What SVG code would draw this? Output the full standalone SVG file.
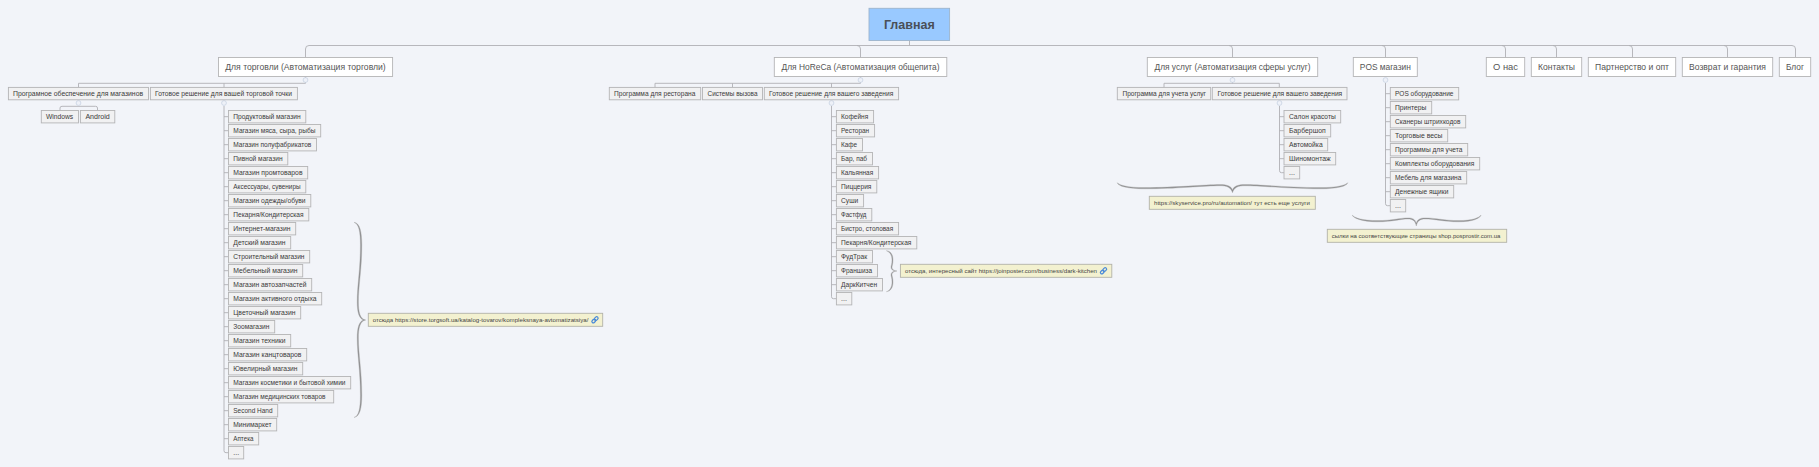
<svg xmlns="http://www.w3.org/2000/svg" width="1819" height="467" viewBox="0 0 1819 467">
<style>
text{font-family:"Liberation Sans","DejaVu Sans",sans-serif;fill:#3c3c3c;dominant-baseline:central}
.r{fill:#99c9ff;stroke:#9db4cc;stroke-width:.9}
.rt{font-size:12.5px;font-weight:bold;fill:#4a4f58;text-anchor:middle}
.a{fill:#fff;stroke:#b4b4b6;stroke-width:.9}
.at{font-size:9px;fill:#555;text-anchor:middle}
.b{fill:#f1f1f2;stroke:#b4b4b6;stroke-width:.9}
.bt{font-size:7.1px;fill:#3a3a3a}
.n{fill:#f3f1d0;stroke:#b2b2a8;stroke-width:.9}
.nt{font-size:6.2px;fill:#444}
.c{fill:none;stroke:#b0b0b4;stroke-width:.9}
.br{fill:#8b8b8d;stroke:#a8a8aa;stroke-width:.4}
.o{fill:#eef1f8;stroke:#c3cfe0;stroke-width:.7}
.ic{fill:none;stroke:#4a8ad8;stroke-width:1.2}
</style>
<rect width="1819" height="467" fill="#f2f4f9"/>
<g id="connectors" class="c">
<path class="c" d="M909.5 40.5V45.5"/>
<path class="c" d="M305.5 57V49Q305.5 45.5 309 45.5H1792Q1795.5 45.5 1795.5 49V57"/>
<path class="c" d="M857 45.5Q860.5 45.5 860.5 49V57.5M1229 45.5Q1232.5 45.5 1232.5 49V57.5M1382 45.5Q1385.5 45.5 1385.5 49V57.5M1502 45.5Q1505.5 45.5 1505.5 49V57.5M1553 45.5Q1556.5 45.5 1556.5 49V57.5M1629 45.5Q1632.5 45.5 1632.5 49V57.5M1724 45.5Q1727.5 45.5 1727.5 49V57.5"/>
<path class="c" d="M78.5 87.5V83.3H224V87.5M224 83.3H305.5V77"/>
<path class="c" d="M60 110.5V108Q60 106.3 62 106.3H95.5Q97.5 106.3 97.5 108V110.5"/>
<path class="c" d="M224 106V450.7Q224 452.7 226 452.7H228.5"/>
<path class="c" d="M224 116.7h4.5M224 130.7h4.5M224 144.7h4.5M224 158.7h4.5M224 172.7h4.5M224 186.7h4.5M224 200.7h4.5M224 214.7h4.5M224 228.7h4.5M224 242.7h4.5M224 256.7h4.5M224 270.7h4.5M224 284.7h4.5M224 298.7h4.5M224 312.7h4.5M224 326.7h4.5M224 340.7h4.5M224 354.7h4.5M224 368.7h4.5M224 382.7h4.5M224 396.7h4.5M224 410.7h4.5M224 424.7h4.5M224 438.7h4.5"/>
<path class="c" d="M655 87.5V83.3H860.5V77M732.5 83.3V87.5M831.5 83.3V87.5"/>
<path class="c" d="M831.5 106V296.7Q831.5 298.7 833.5 298.7H836.4"/>
<path class="c" d="M831.5 116.7h4.9M831.5 130.7h4.9M831.5 144.7h4.9M831.5 158.7h4.9M831.5 172.7h4.9M831.5 186.7h4.9M831.5 200.7h4.9M831.5 214.7h4.9M831.5 228.7h4.9M831.5 242.7h4.9M831.5 256.7h4.9M831.5 270.7h4.9M831.5 284.7h4.9"/>
<path class="c" d="M1164 87.5V83.3H1279.3V87.5M1232.5 83.3V77"/>
<path class="c" d="M1279.5 106V170.7Q1279.5 172.7 1281.5 172.7H1284"/>
<path class="c" d="M1279.5 116.7h4.5M1279.5 130.7h4.5M1279.5 144.7h4.5M1279.5 158.7h4.5"/>
<path class="c" d="M1385.5 83V203.7Q1385.5 205.7 1387.5 205.7H1390.3"/>
<path class="c" d="M1385.5 93.7h4.8M1385.5 107.7h4.8M1385.5 121.7h4.8M1385.5 135.7h4.8M1385.5 149.7h4.8M1385.5 163.7h4.8M1385.5 177.7h4.8M1385.5 191.7h4.8"/>
</g>
<g id="toggles">
<circle class="o" cx="305.5" cy="80" r="2.4"/><circle class="o" cx="78.5" cy="103" r="2.4"/><circle class="o" cx="224" cy="103" r="2.4"/><circle class="o" cx="860.5" cy="80" r="2.4"/><circle class="o" cx="831.5" cy="103" r="2.4"/><circle class="o" cx="1232.5" cy="80" r="2.4"/><circle class="o" cx="1279.5" cy="103" r="2.4"/><circle class="o" cx="1385.5" cy="80" r="2.4"/>
</g>
<g id="root"><rect class="r" x="869" y="8.3" width="80.6" height="32.2"/><text class="rt" x="909.3" y="25">Главная</text></g>
<g id="l1-trade"><rect class="a" x="218.5" y="57.5" width="174.1" height="19"/><text class="at" x="305.5" y="67" textLength="160.5" lengthAdjust="spacingAndGlyphs">Для торговли (Автоматизация торговли)</text></g>
<g id="l1-horeca"><rect class="a" x="774.3" y="57.5" width="172.5" height="19"/><text class="at" x="860.5" y="67" textLength="158" lengthAdjust="spacingAndGlyphs">Для HoReCa (Автоматизация общепита)</text></g>
<g id="l1-services"><rect class="a" x="1147.3" y="57.5" width="170.4" height="19"/><text class="at" x="1232.5" y="67" textLength="156" lengthAdjust="spacingAndGlyphs">Для услуг (Автоматизация сферы услуг)</text></g>
<g id="l1-pos"><rect class="a" x="1353.3" y="57.5" width="64" height="19"/><text class="at" x="1385.3" y="67" textLength="51" lengthAdjust="spacingAndGlyphs">POS магазин</text></g>
<g id="l1-about"><rect class="a" x="1486.3" y="57.5" width="38.4" height="19"/><text class="at" x="1505.5" y="67" textLength="25" lengthAdjust="spacingAndGlyphs">О нас</text></g>
<g id="l1-contacts"><rect class="a" x="1531.3" y="57.5" width="50.4" height="19"/><text class="at" x="1556.5" y="67" textLength="37" lengthAdjust="spacingAndGlyphs">Контакты</text></g>
<g id="l1-partner"><rect class="a" x="1588.3" y="57.5" width="87.4" height="19"/><text class="at" x="1632" y="67" textLength="74" lengthAdjust="spacingAndGlyphs">Партнерство и опт</text></g>
<g id="l1-return"><rect class="a" x="1682.3" y="57.5" width="90.4" height="19"/><text class="at" x="1727.5" y="67" textLength="77" lengthAdjust="spacingAndGlyphs">Возврат и гарантия</text></g>
<g id="l1-blog"><rect class="a" x="1779.3" y="57.5" width="31.4" height="19"/><text class="at" x="1795" y="67" textLength="18" lengthAdjust="spacingAndGlyphs">Блог</text></g>
<g id="t1"><rect class="b" x="8.4" y="87.4" width="140.1" height="12.4"/><text class="bt" x="13" y="93.6" textLength="130.1" lengthAdjust="spacingAndGlyphs">Програмное обеспечение для магазинов</text></g>
<g id="t2"><rect class="b" x="150.4" y="87.4" width="147" height="12.4"/><text class="bt" x="155" y="93.6" textLength="137" lengthAdjust="spacingAndGlyphs">Готовое решение для вашей торговой точки</text></g>
<g id="t1a"><rect class="b" x="41.3" y="110.5" width="37.2" height="12.4"/><text class="bt" x="46" y="116.7" textLength="27.2" lengthAdjust="spacingAndGlyphs">Windows</text></g>
<g id="t1b"><rect class="b" x="80.4" y="110.5" width="34.4" height="12.4"/><text class="bt" x="85.4" y="116.7" textLength="24.4" lengthAdjust="spacingAndGlyphs">Android</text></g>
<g id="s0"><rect class="b" x="228.5" y="110.5" width="77.3" height="12.4"/><text class="bt" x="233.3" y="116.7" textLength="67.3" lengthAdjust="spacingAndGlyphs">Продуктовый магазин</text></g>
<g id="s1"><rect class="b" x="228.5" y="124.5" width="92.2" height="12.4"/><text class="bt" x="233.3" y="130.7" textLength="82.2" lengthAdjust="spacingAndGlyphs">Магазин мяса, сыра, рыбы</text></g>
<g id="s2"><rect class="b" x="228.5" y="138.5" width="88" height="12.4"/><text class="bt" x="233.3" y="144.7" textLength="78" lengthAdjust="spacingAndGlyphs">Магазин полуфабрикатов</text></g>
<g id="s3"><rect class="b" x="228.5" y="152.5" width="59.3" height="12.4"/><text class="bt" x="233.3" y="158.7" textLength="49.3" lengthAdjust="spacingAndGlyphs">Пивной магазин</text></g>
<g id="s4"><rect class="b" x="228.5" y="166.5" width="79.2" height="12.4"/><text class="bt" x="233.3" y="172.7" textLength="69.2" lengthAdjust="spacingAndGlyphs">Магазин промтоваров</text></g>
<g id="s5"><rect class="b" x="228.5" y="180.5" width="77.3" height="12.4"/><text class="bt" x="233.3" y="186.7" textLength="67.3" lengthAdjust="spacingAndGlyphs">Аксессуары, сувениры</text></g>
<g id="s6"><rect class="b" x="228.5" y="194.5" width="82.3" height="12.4"/><text class="bt" x="233.3" y="200.7" textLength="72.3" lengthAdjust="spacingAndGlyphs">Магазин одежды/обуви</text></g>
<g id="s7"><rect class="b" x="228.5" y="208.5" width="80.3" height="12.4"/><text class="bt" x="233.3" y="214.7" textLength="70.3" lengthAdjust="spacingAndGlyphs">Пекарня/Кондитерская</text></g>
<g id="s8"><rect class="b" x="228.5" y="222.5" width="67.2" height="12.4"/><text class="bt" x="233.3" y="228.7" textLength="57.2" lengthAdjust="spacingAndGlyphs">Интернет-магазин</text></g>
<g id="s9"><rect class="b" x="228.5" y="236.5" width="62.2" height="12.4"/><text class="bt" x="233.3" y="242.7" textLength="52.2" lengthAdjust="spacingAndGlyphs">Детский магазин</text></g>
<g id="s10"><rect class="b" x="228.5" y="250.5" width="81.2" height="12.4"/><text class="bt" x="233.3" y="256.7" textLength="71.2" lengthAdjust="spacingAndGlyphs">Строительный магазин</text></g>
<g id="s11"><rect class="b" x="228.5" y="264.5" width="74.2" height="12.4"/><text class="bt" x="233.3" y="270.7" textLength="64.2" lengthAdjust="spacingAndGlyphs">Мебельный магазин</text></g>
<g id="s12"><rect class="b" x="228.5" y="278.5" width="83.2" height="12.4"/><text class="bt" x="233.3" y="284.7" textLength="73.2" lengthAdjust="spacingAndGlyphs">Магазин автозапчастей</text></g>
<g id="s13"><rect class="b" x="228.5" y="292.5" width="93.2" height="12.4"/><text class="bt" x="233.3" y="298.7" textLength="83.2" lengthAdjust="spacingAndGlyphs">Магазин активного отдыха</text></g>
<g id="s14"><rect class="b" x="228.5" y="306.5" width="72.2" height="12.4"/><text class="bt" x="233.3" y="312.7" textLength="62.2" lengthAdjust="spacingAndGlyphs">Цветочный магазин</text></g>
<g id="s15"><rect class="b" x="228.5" y="320.5" width="46.2" height="12.4"/><text class="bt" x="233.3" y="326.7" textLength="36.2" lengthAdjust="spacingAndGlyphs">Зоомагазин</text></g>
<g id="s16"><rect class="b" x="228.5" y="334.5" width="62.2" height="12.4"/><text class="bt" x="233.3" y="340.7" textLength="52.2" lengthAdjust="spacingAndGlyphs">Магазин техники</text></g>
<g id="s17"><rect class="b" x="228.5" y="348.5" width="78.2" height="12.4"/><text class="bt" x="233.3" y="354.7" textLength="68.2" lengthAdjust="spacingAndGlyphs">Магазин канцтоваров</text></g>
<g id="s18"><rect class="b" x="228.5" y="362.5" width="74.2" height="12.4"/><text class="bt" x="233.3" y="368.7" textLength="64.2" lengthAdjust="spacingAndGlyphs">Ювелирный магазин</text></g>
<g id="s19"><rect class="b" x="228.5" y="376.5" width="122.2" height="12.4"/><text class="bt" x="233.3" y="382.7" textLength="112.2" lengthAdjust="spacingAndGlyphs">Магазин косметики и бытовой химии</text></g>
<g id="s20"><rect class="b" x="228.5" y="390.5" width="105.2" height="12.4"/><text class="bt" x="233.3" y="396.7" textLength="92.2" lengthAdjust="spacingAndGlyphs">Магазин медицинских товаров</text></g>
<g id="s21"><rect class="b" x="228.5" y="404.5" width="49.2" height="12.4"/><text class="bt" x="233.3" y="410.7" textLength="39.2" lengthAdjust="spacingAndGlyphs">Second Hand</text></g>
<g id="s22"><rect class="b" x="228.5" y="418.5" width="48.2" height="12.4"/><text class="bt" x="233.3" y="424.7" textLength="38.2" lengthAdjust="spacingAndGlyphs">Минимаркет</text></g>
<g id="s23"><rect class="b" x="228.5" y="432.5" width="30.2" height="12.4"/><text class="bt" x="233.3" y="438.7" textLength="20.2" lengthAdjust="spacingAndGlyphs">Аптека</text></g>
<g id="s24"><rect class="b" x="228.5" y="446.5" width="15.2" height="12.4"/><text class="bt" x="233.3" y="452.7">...</text></g>
<g id="h1"><rect class="b" x="609.3" y="87.4" width="91.4" height="12.4"/><text class="bt" x="614" y="93.6" textLength="81.4" lengthAdjust="spacingAndGlyphs">Программа для ресторана</text></g>
<g id="h2"><rect class="b" x="702.5" y="87.4" width="60" height="12.4"/><text class="bt" x="707.5" y="93.6" textLength="50" lengthAdjust="spacingAndGlyphs">Системы вызова</text></g>
<g id="h3"><rect class="b" x="764.3" y="87.4" width="134.3" height="12.4"/><text class="bt" x="769" y="93.6" textLength="124.3" lengthAdjust="spacingAndGlyphs">Готовое решение для вашего заведения</text></g>
<g id="c0"><rect class="b" x="836.4" y="110.5" width="37.2" height="12.4"/><text class="bt" x="841" y="116.7" textLength="27.2" lengthAdjust="spacingAndGlyphs">Кофейня</text></g>
<g id="c1"><rect class="b" x="836.4" y="124.5" width="38.2" height="12.4"/><text class="bt" x="841" y="130.7" textLength="28.2" lengthAdjust="spacingAndGlyphs">Ресторан</text></g>
<g id="c2"><rect class="b" x="836.4" y="138.5" width="26.1" height="12.4"/><text class="bt" x="841" y="144.7" textLength="16.1" lengthAdjust="spacingAndGlyphs">Кафе</text></g>
<g id="c3"><rect class="b" x="836.4" y="152.5" width="36.1" height="12.4"/><text class="bt" x="841" y="158.7" textLength="26.1" lengthAdjust="spacingAndGlyphs">Бар, паб</text></g>
<g id="c4"><rect class="b" x="836.4" y="166.5" width="42.2" height="12.4"/><text class="bt" x="841" y="172.7" textLength="32.2" lengthAdjust="spacingAndGlyphs">Кальянная</text></g>
<g id="c5"><rect class="b" x="836.4" y="180.5" width="40.4" height="12.4"/><text class="bt" x="841" y="186.7" textLength="30.4" lengthAdjust="spacingAndGlyphs">Пиццерия</text></g>
<g id="c6"><rect class="b" x="836.4" y="194.5" width="27.2" height="12.4"/><text class="bt" x="841" y="200.7" textLength="17.2" lengthAdjust="spacingAndGlyphs">Суши</text></g>
<g id="c7"><rect class="b" x="836.4" y="208.5" width="35.4" height="12.4"/><text class="bt" x="841" y="214.7" textLength="25.4" lengthAdjust="spacingAndGlyphs">Фастфуд</text></g>
<g id="c8"><rect class="b" x="836.4" y="222.5" width="62.2" height="12.4"/><text class="bt" x="841" y="228.7" textLength="52.2" lengthAdjust="spacingAndGlyphs">Бистро, столовая</text></g>
<g id="c9"><rect class="b" x="836.4" y="236.5" width="80.4" height="12.4"/><text class="bt" x="841" y="242.7" textLength="70.4" lengthAdjust="spacingAndGlyphs">Пекарня/Кондитерская</text></g>
<g id="c10"><rect class="b" x="836.4" y="250.5" width="36.1" height="12.4"/><text class="bt" x="841" y="256.7" textLength="26.1" lengthAdjust="spacingAndGlyphs">ФудТрак</text></g>
<g id="c11"><rect class="b" x="836.4" y="264.5" width="41.1" height="12.4"/><text class="bt" x="841" y="270.7" textLength="31.1" lengthAdjust="spacingAndGlyphs">Франшиза</text></g>
<g id="c12"><rect class="b" x="836.4" y="278.5" width="46.1" height="12.4"/><text class="bt" x="841" y="284.7" textLength="36.1" lengthAdjust="spacingAndGlyphs">ДаркКитчен</text></g>
<g id="c13"><rect class="b" x="836.4" y="292.5" width="15.4" height="12.4"/><text class="bt" x="841" y="298.7">...</text></g>
<g id="u1"><rect class="b" x="1117.3" y="87.4" width="93.4" height="12.4"/><text class="bt" x="1122.5" y="93.6" textLength="83.4" lengthAdjust="spacingAndGlyphs">Программа для учета услуг</text></g>
<g id="u2"><rect class="b" x="1212.3" y="87.4" width="134.7" height="12.4"/><text class="bt" x="1217.5" y="93.6" textLength="124.7" lengthAdjust="spacingAndGlyphs">Готовое решение для вашего заведения</text></g>
<g id="v0"><rect class="b" x="1284" y="110.5" width="56.7" height="12.4"/><text class="bt" x="1289" y="116.7" textLength="46.7" lengthAdjust="spacingAndGlyphs">Салон красоты</text></g>
<g id="v1"><rect class="b" x="1284" y="124.5" width="46.7" height="12.4"/><text class="bt" x="1289" y="130.7" textLength="36.7" lengthAdjust="spacingAndGlyphs">Барбершоп</text></g>
<g id="v2"><rect class="b" x="1284" y="138.5" width="43.7" height="12.4"/><text class="bt" x="1289" y="144.7" textLength="33.7" lengthAdjust="spacingAndGlyphs">Автомойка</text></g>
<g id="v3"><rect class="b" x="1284" y="152.5" width="51.7" height="12.4"/><text class="bt" x="1289" y="158.7" textLength="41.7" lengthAdjust="spacingAndGlyphs">Шиномонтаж</text></g>
<g id="v4"><rect class="b" x="1284" y="166.5" width="15.7" height="12.4"/><text class="bt" x="1289" y="172.7">...</text></g>
<g id="p0"><rect class="b" x="1390.3" y="87.5" width="68.4" height="12.4"/><text class="bt" x="1395" y="93.7" textLength="58.4" lengthAdjust="spacingAndGlyphs">POS оборудование</text></g>
<g id="p1"><rect class="b" x="1390.3" y="101.5" width="41.4" height="12.4"/><text class="bt" x="1395" y="107.7" textLength="31.4" lengthAdjust="spacingAndGlyphs">Принтеры</text></g>
<g id="p2"><rect class="b" x="1390.3" y="115.5" width="75.4" height="12.4"/><text class="bt" x="1395" y="121.7" textLength="65.4" lengthAdjust="spacingAndGlyphs">Сканеры штрихкодов</text></g>
<g id="p3"><rect class="b" x="1390.3" y="129.5" width="57.4" height="12.4"/><text class="bt" x="1395" y="135.7" textLength="47.4" lengthAdjust="spacingAndGlyphs">Торговые весы</text></g>
<g id="p4"><rect class="b" x="1390.3" y="143.5" width="77.4" height="12.4"/><text class="bt" x="1395" y="149.7" textLength="67.4" lengthAdjust="spacingAndGlyphs">Программы для учета</text></g>
<g id="p5"><rect class="b" x="1390.3" y="157.5" width="89.4" height="12.4"/><text class="bt" x="1395" y="163.7" textLength="79.4" lengthAdjust="spacingAndGlyphs">Комплекты оборудования</text></g>
<g id="p6"><rect class="b" x="1390.3" y="171.5" width="76.4" height="12.4"/><text class="bt" x="1395" y="177.7" textLength="66.4" lengthAdjust="spacingAndGlyphs">Мебель для магазина</text></g>
<g id="p7"><rect class="b" x="1390.3" y="185.5" width="63.4" height="12.4"/><text class="bt" x="1395" y="191.7" textLength="53.4" lengthAdjust="spacingAndGlyphs">Денежные ящики</text></g>
<g id="p8"><rect class="b" x="1390.3" y="199.5" width="15.4" height="12.4"/><text class="bt" x="1395" y="205.7">...</text></g>
<g id="brace-trade"><path class="br" d="M354 222.3C360 223 361.8 232 361.8 245C361.8 270 358.4 285 358.4 302C358.4 312 360 319 365.7 320C360 321 358.4 328 358.4 338C358.4 355 361.8 370 361.8 395C361.8 408 360 416.5 354 417.5C359 416 360.4 408 360.4 395C360.4 370 357.2 355 357.2 338C357.2 328 359 321.5 363.5 320C359 318.5 357.2 312 357.2 302C357.2 285 360.4 270 360.4 245C360.4 232 359 224 354 222.3Z"/></g>
<g id="note-trade"><rect class="n" x="368.3" y="313.3" width="234.4" height="13"/><text class="nt" x="372.7" y="319.8" textLength="215.7" lengthAdjust="spacingAndGlyphs">отсюда https://store.torgsoft.ua/katalog-tovarov/kompleksnaya-avtomatizatsiya/</text><g class="ic" transform="translate(595 319.8) rotate(-45)"><rect class="ic" x="-3.8" y="-1.4" width="4.2" height="2.8" rx="1.4"/><rect class="ic" x="-.4" y="-1.4" width="4.2" height="2.8" rx="1.4"/></g></g>
<g id="brace-horeca"><path class="br" d="M886.4 250.7C891 251 893 255 893 260C893 264 892 266 892 267C892 269 893 270.5 897 271C893 271.5 892 273 892 275C892 276 893 278 893 282C893 287 891 291.3 886.4 291.7C890 290.5 892 287 892 282C892 278 891 276 891 275C891 273 892 271.7 895 271C892 270.3 891 269 891 267C891 266 892 264 892 260C892 255 890 252 886.4 250.7Z"/></g>
<g id="note-horeca"><rect class="n" x="900.4" y="264.3" width="211.4" height="13"/><text class="nt" x="905" y="270.8" textLength="192" lengthAdjust="spacingAndGlyphs">отсюда, интересный сайт https://joinposter.com/business/dark-kitchen</text><g class="ic" transform="translate(1103.5 270.8) rotate(-45)"><rect class="ic" x="-3.8" y="-1.4" width="4.2" height="2.8" rx="1.4"/><rect class="ic" x="-.4" y="-1.4" width="4.2" height="2.8" rx="1.4"/></g></g>
<g id="brace-services"><path class="br" d="M1117.3 182.7C1118 186 1127 188.8 1145 188.8C1175 188.8 1205 185.7 1220 185.7C1227 185.7 1231 187.5 1232.5 192.7C1234 187.5 1238 185.7 1245 185.7C1260 185.7 1290 188.8 1320 188.8C1338 188.8 1347 186 1347.7 182.7C1346 185 1338 187.6 1320 187.6C1290 187.6 1260 184.6 1245 184.6C1238 184.6 1234 186 1232.5 190C1231 186 1227 184.6 1220 184.6C1205 184.6 1175 187.6 1145 187.6C1127 187.6 1119 185 1117.3 182.7Z"/></g>
<g id="note-services"><rect class="n" x="1149.3" y="196.3" width="166" height="13"/><text class="nt" x="1154" y="202.8" textLength="156" lengthAdjust="spacingAndGlyphs">https://skyservice.pro/ru/automation/ тут есть еще услуги</text></g>
<g id="brace-pos"><path class="br" d="M1352.3 215C1353 218 1361 221.8 1378 221.8C1392 221.8 1400 219 1408 219C1413 219 1415.3 221 1416.3 226C1417.3 221 1420 219 1425 219C1435 219 1445 221.8 1458 221.8C1474 221.8 1480.3 218 1481 215C1479 217.5 1474 220.6 1458 220.6C1445 220.6 1435 217.9 1425 217.9C1420 217.9 1417.5 219.5 1416.3 223C1415 219.5 1413 217.9 1408 217.9C1400 217.9 1392 220.6 1378 220.6C1361 220.6 1354 217.5 1352.3 215Z"/></g>
<g id="note-pos"><rect class="n" x="1327.3" y="229.3" width="179.4" height="13"/><text class="nt" x="1331.7" y="235.8" textLength="168.7" lengthAdjust="spacingAndGlyphs">сылки на соответствующие страницы shop.posprostir.com.ua</text></g>
</svg>
